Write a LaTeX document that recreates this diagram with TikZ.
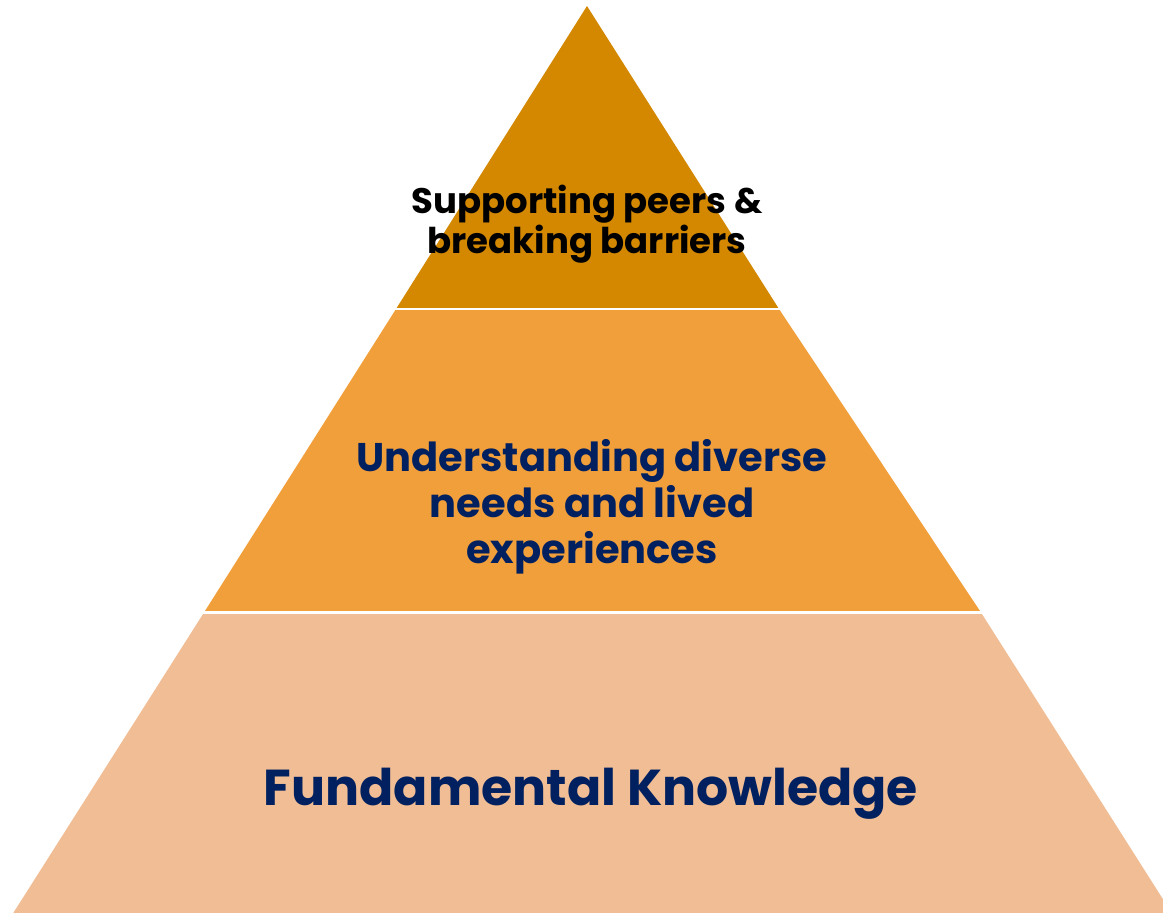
\documentclass[tikz,border=0pt]{standalone}
\usepackage{fontspec}
\setmainfont{Poppins}
\definecolor{tiertop}{RGB}{211,136,0}
\definecolor{tiermid}{RGB}{241,159,59}
\definecolor{tierbot}{RGB}{241,189,148}
\definecolor{navy}{RGB}{0,32,96}
\begin{document}
\begin{tikzpicture}[x=1pt,y=-1pt,
  lbl/.style={align=center,font=\bfseries,inner sep=0pt},
  gap/.style={draw=white,line width=2.5pt}]
\useasboundingbox (0,0) rectangle (1163,913);
\begin{scope}
\clip (0,0) rectangle (1163,913);
\coordinate (apex) at (587,6);
\coordinate (tl) at (396,309);
\coordinate (tr) at (779,309);
\coordinate (ml) at (204,612.5);
\coordinate (mr) at (981,612.5);
\coordinate (bl) at (12,915);
\coordinate (br) at (1173,915);
\fill[tiertop] (apex) -- (tr) -- (tl) -- cycle;
\fill[tiermid] (tl) -- (tr) -- (mr) -- (ml) -- cycle;
\fill[tierbot] (ml) -- (mr) -- (br) -- (bl) -- cycle;
\draw[gap] ([xshift=-20pt]tl) -- ([xshift=20pt]tr);
\draw[gap] ([xshift=-20pt]ml) -- ([xshift=20pt]mr);
\end{scope}
\node[lbl,text=black,font=\fontsize{35.5}{40}\selectfont\bfseries] (t1) at (587,224) {Supporting peers \&\\breaking barriers};
\node[lbl,text=navy,font=\fontsize{40}{46}\selectfont\bfseries] (t2) at (592,507) {Understanding diverse\\needs and lived\\experiences};
\node[lbl,text=navy,font=\fontsize{50.5}{60}\selectfont\bfseries] (t3) at (591,794) {Fundamental Knowledge};
\end{tikzpicture}
\end{document}
